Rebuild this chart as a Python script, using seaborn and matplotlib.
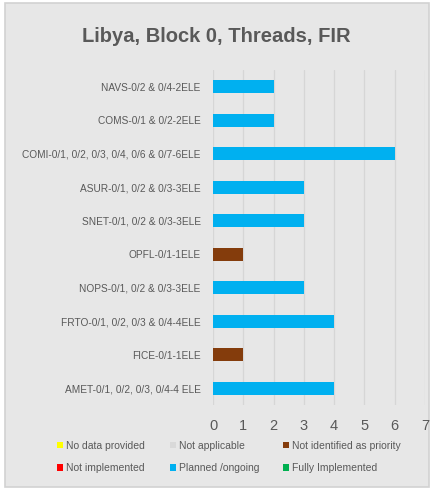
import matplotlib
matplotlib.use('Agg')
import matplotlib.pyplot as plt
import matplotlib.patches as mpatches
import pandas as pd
import seaborn as sns

# data, top to bottom as in the chart
threads = [
    'NAVS-0/2 & 0/4-2ELE',
    'COMS-0/1 & 0/2-2ELE',
    'COMI-0/1, 0/2, 0/3, 0/4, 0/6 & 0/7-6ELE',
    'ASUR-0/1, 0/2 & 0/3-3ELE',
    'SNET-0/1, 0/2 & 0/3-3ELE',
    'OPFL-0/1-1ELE',
    'NOPS-0/1, 0/2 & 0/3-3ELE',
    'FRTO-0/1, 0/2, 0/3 & 0/4-4ELE',
    'FICE-0/1-1ELE',
    'AMET-0/1, 0/2, 0/3, 0/4-4 ELE',
]
elements = [2, 2, 6, 3, 3, 1, 3, 4, 1, 4]
status = ['Planned /ongoing', 'Planned /ongoing', 'Planned /ongoing', 'Planned /ongoing',
          'Planned /ongoing', 'Not identified as priority', 'Planned /ongoing',
          'Planned /ongoing', 'Not identified as priority', 'Planned /ongoing']

legend_labels = ['No data provided', 'Not applicable', 'Not identified as priority',
                 'Not implemented', 'Planned /ongoing', 'Fully Implemented']
legend_colors = ['#FFFF00', '#D9D9D9', '#843C0C', '#FF0000', '#00B0F0', '#00B050']
palette = dict(zip(legend_labels, legend_colors))

df = pd.DataFrame({'thread': threads, 'n': elements, 'status': status})

sns.set_style('white')
plt.rcParams['font.family'] = ['Liberation Sans', 'DejaVu Sans']
text_col = '#595959'

fig = plt.figure(figsize=(4.33, 4.91), dpi=100)
fig.patch.set_facecolor('white')
# panel background with thin border
panel = mpatches.Rectangle((5 / 433, 4 / 491), 424 / 433, 484 / 491,
                           transform=fig.transFigure, facecolor='#E7E7E7',
                           edgecolor='#D2D2D2', linewidth=1.2, zorder=-5)
fig.add_artist(panel)

ax = fig.add_axes([213 / 433, 1 - 405 / 491, 212 / 433, 335 / 491])
ax.set_zorder(2)
ax.set_facecolor('none')
sns.barplot(data=df, x='n', y='thread', hue='status', palette=palette, dodge=False,
            width=0.4, saturation=1, linewidth=0, legend=False, ax=ax, zorder=3)

ax.set_xlim(0, 7)
ax.set_ylim(9.5, -0.5)
ax.set_xticks(range(8))
ax.xaxis.grid(True, color='#D6D6D6', linewidth=0.9, zorder=0)
ax.set_axisbelow(True)
for s in ax.spines.values():
    s.set_visible(False)
ax.set_xlabel('')
ax.set_ylabel('')
ax.tick_params(axis='y', length=0, pad=9, labelsize=7.3, labelcolor=text_col)
ax.tick_params(axis='x', length=0, pad=10, labelsize=10.5, labelcolor=text_col)

fig.text(0.5, 1 - 37 / 491, 'Libya, Block 0, Threads, FIR', ha='center', va='center',
         fontsize=14.5, fontweight='bold', color=text_col)

# legend: three columns placed at fixed positions, two rows each
col_x = [57, 170, 283]
for j, x in enumerate(col_x):
    idx = [j, j + 3]
    handles = [mpatches.Patch(facecolor=legend_colors[i], edgecolor='none') for i in idx]
    labels = [legend_labels[i] for i in idx]
    leg = fig.legend(handles, labels, loc='center left',
                     bbox_to_anchor=(x / 433, 1 - 457 / 491), frameon=False, fontsize=7.5,
                     labelcolor=text_col, handlelength=0.6, handleheight=0.6,
                     handletextpad=0.3, labelspacing=1.2, borderpad=0, borderaxespad=0)
    leg.set_zorder(3)

fig.savefig('out.png', dpi=100)
